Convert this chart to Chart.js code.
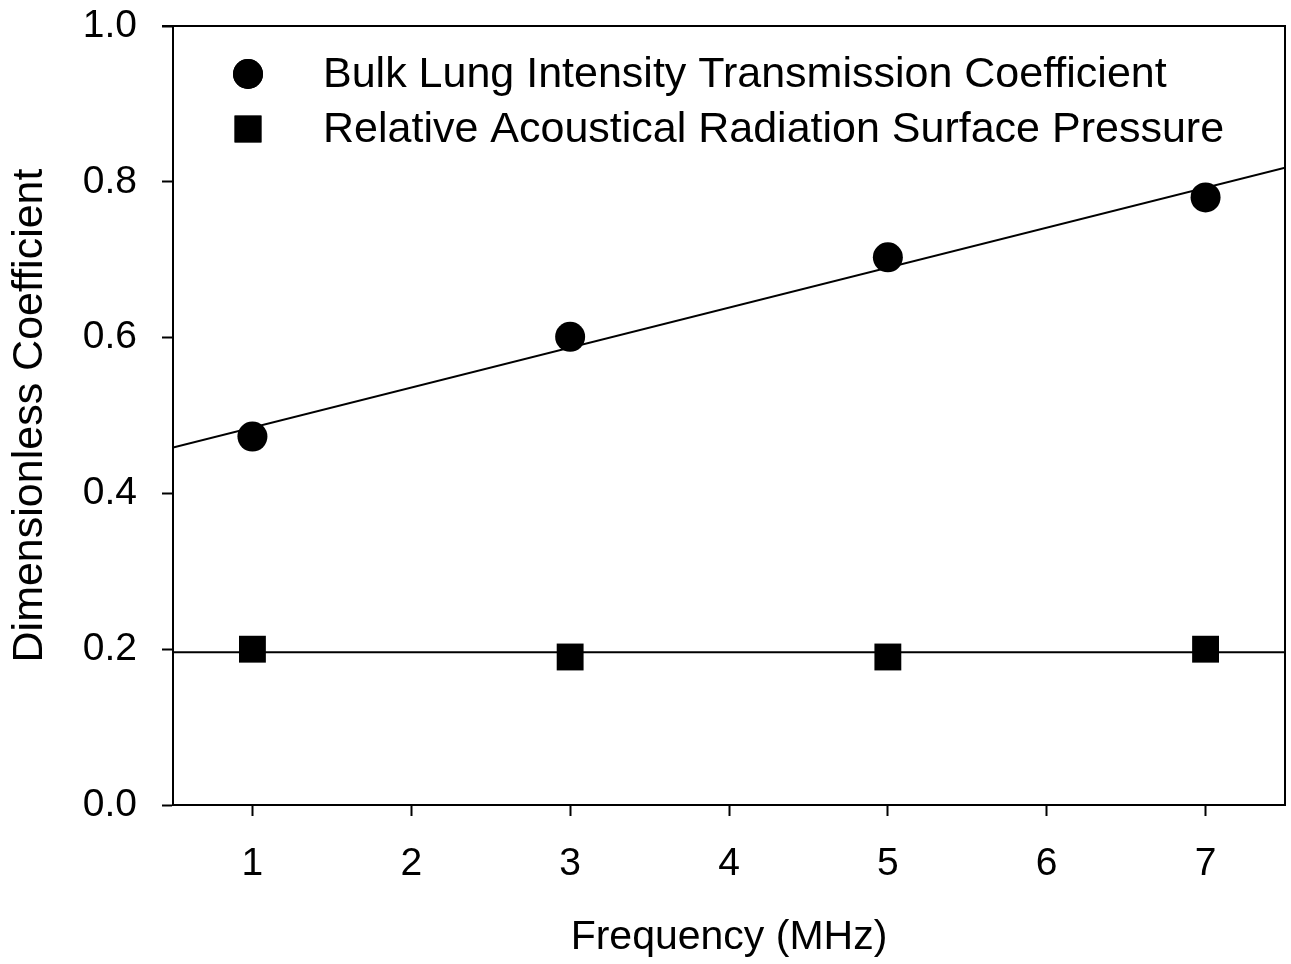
<!DOCTYPE html>
<html>
<head>
<meta charset="utf-8">
<script src="https://cdn.jsdelivr.net/npm/chart.js@4.4.1/dist/chart.umd.min.js"></script>
<style>
  html, body { margin: 0; padding: 0; background: #fff; }
  #wrap { width: 1291px; height: 964px; }
</style>
</head>
<body>
<div id="wrap"><canvas id="chart" width="1291" height="964"></canvas></div>
<script>
// values
const frequencies = [1, 3, 5, 7];
const transmission = [0.473, 0.601, 0.703, 0.780];
const surfacePressure = [0.200, 0.190, 0.190, 0.200];
// fitted lines, read at the plot edges
const fitX = [0.5, 7.5];
const transmissionFit = [0.459, 0.818];
const pressureFit = [0.196, 0.196];
const xTicks = [1, 2, 3, 4, 5, 6, 7];
const yTicks = [0, 0.2, 0.4, 0.6, 0.8, 1.0];
const legendLabels = ['Bulk Lung Intensity Transmission Coefficient', 'Relative Acoustical Radiation Surface Pressure'];

const FONT = "'Liberation Sans', Arial, sans-serif";
const pts = (xs, ys) => xs.map((x, i) => ({ x, y: ys[i] }));

// frame on top/right + legend inside the plot
const framePlugin = {
    id: 'frame',
    afterDatasetsDraw(chart) {
        const { ctx, chartArea: a } = chart;
        ctx.save();
        ctx.strokeStyle = '#000';
        ctx.lineWidth = 2;
        ctx.beginPath();
        ctx.moveTo(a.left - 11, a.top);
        ctx.lineTo(a.right, a.top);
        ctx.lineTo(a.right, a.bottom);
        ctx.stroke();

        const styles = [{ pointStyle: 'circle', radius: 15 }, { pointStyle: 'rect', radius: 19 }];
        ctx.fillStyle = '#000';
        ctx.font = `43px ${FONT}`;
        ctx.textBaseline = 'middle';
        legendLabels.forEach((label, i) => {
            const y = a.top + 48 + i * 55;
            Chart.helpers.drawPoint(ctx, { pointStyle: styles[i].pointStyle, radius: styles[i].radius, borderWidth: 0 }, a.left + 75, y);
            ctx.fill();
            ctx.fillText(label, a.left + 150, y + 1);
        });
        ctx.restore();
    }
};

new Chart(document.getElementById('chart'), {
    type: 'scatter',
    data: {
        datasets: [
            { data: pts(fitX, transmissionFit), showLine: true, borderColor: '#000', borderWidth: 2, pointRadius: 0 },
            { data: pts(fitX, pressureFit), showLine: true, borderColor: '#000', borderWidth: 2, pointRadius: 0 },
            { data: pts(frequencies, transmission), pointStyle: 'circle', pointRadius: 15, backgroundColor: '#000', borderColor: '#000', borderWidth: 0 },
            { data: pts(frequencies, surfacePressure), pointStyle: 'rect', pointRadius: 19, backgroundColor: '#000', borderColor: '#000', borderWidth: 0 },
        ],
    },
    options: {
        responsive: false,
        animation: false,
        layout: { autoPadding: false, padding: { top: 26, right: 6, bottom: 2, left: 0 } },
        plugins: { legend: { display: false }, tooltip: { enabled: false } },
        scales: {
            x: {
                type: 'linear',
                min: 0.5,
                max: 7.5,
                afterBuildTicks: (s) => { s.ticks = xTicks.map((v) => ({ value: v })); },
                afterFit: (s) => { s.height = 157; s.paddingLeft = 0; s.paddingRight = 0; },
                grid: { drawOnChartArea: false, tickLength: 11, tickWidth: 2, color: '#000' },
                border: { display: true, color: '#000', width: 2 },
                ticks: { color: '#000', font: { family: FONT, size: 39 }, padding: 25 },
                title: { display: true, text: 'Frequency (MHz)', color: '#000', font: { family: FONT, size: 41 }, padding: { bottom: 0 } },
            },
            y: {
                min: 0,
                max: 1,
                afterBuildTicks: (s) => { s.ticks = yTicks.map((v) => ({ value: v })); },
                afterFit: (s) => { s.width = 173; s.paddingTop = 0; s.paddingBottom = 0; },
                grid: { drawOnChartArea: false, tickLength: 11, tickWidth: 2, color: '#000' },
                border: { display: true, color: '#000', width: 2 },
                ticks: { color: '#000', font: { family: FONT, size: 39 }, padding: 25, callback: (v) => Number(v).toFixed(1) },
                title: { display: true, text: 'Dimensionless Coefficient', color: '#000', font: { family: FONT, size: 43 }, padding: { top: 4 } },
            },
        },
    },
    plugins: [framePlugin],
});
</script>
</body>
</html>
